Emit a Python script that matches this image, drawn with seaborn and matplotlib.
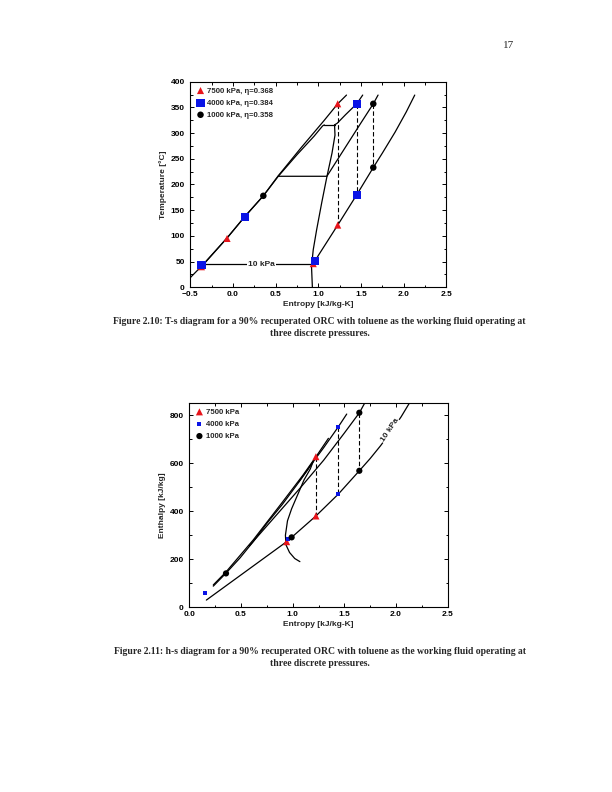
import numpy as np
import pandas as pd
import matplotlib
matplotlib.use("Agg")
import matplotlib.pyplot as plt
from matplotlib.ticker import MultipleLocator
import seaborn as sns

# ---------------- T-s diagram data ----------------
ts_satliq_s = [-0.50, -0.37, -0.07, 0.14, 0.355, 0.53, 0.75, 0.95, 1.02, 1.05, 1.07]
ts_satliq_T = [19, 41, 96, 138, 178, 216, 258, 294, 308, 314, 316]
ts_top_s = [1.07, 1.19]
ts_top_T = [316, 316]
ts_satvap_s = [1.19, 1.195, 1.16, 1.10, 1.04, 0.98, 0.94, 0.92, 0.93]
ts_satvap_T = [316, 296, 261, 215, 165, 112, 73, 40, 0]
ts_p7500_s = [-0.37, -0.07, 0.14, 0.355, 0.53, 0.80, 1.06, 1.227, 1.33]
ts_p7500_T = [40, 96, 138, 178, 217, 272, 323, 357, 374]
ts_p4000_s = [1.19, 1.22, 1.32, 1.45, 1.52]
ts_p4000_T = [316, 319, 336, 357, 374]
ts_p1000_s = [0.53, 1.10, 1.30, 1.50, 1.644, 1.70]
ts_p1000_T = [216, 216, 268, 320, 357, 374]
ts_p10_s = [-0.37, 0.925]
ts_p10_T = [45, 45]
ts_p10v_s = [0.95, 1.00, 1.227, 1.45, 1.644, 1.75, 1.90, 2.03, 2.13]
ts_p10v_T = [48, 62, 121, 180, 233, 261, 302, 341, 374]
ts_turb_s = [1.227, 1.45, 1.644]
ts_turb_Tin = [357, 357, 357]
ts_turb_Tout = [121, 180, 233]

ts_red_s = [-0.37, -0.07, 0.94, 1.227, 1.227]
ts_red_T = [40, 95, 46, 121, 357]
ts_blue_s = [-0.37, 0.144, 0.96, 1.45, 1.45]
ts_blue_T = [43, 137, 52, 180, 357]
ts_black_s = [0.355, 1.644, 1.644]
ts_black_T = [178, 357, 233]

ts_labels = ["7500 kPa, η=0.368", "4000 kPa, η=0.384", "1000 kPa, η=0.358"]

# ---------------- h-s diagram data ----------------
hs_satliq_s = [0.232, 0.355, 0.49, 0.62, 0.75, 0.90, 1.05, 1.15, 1.20]
hs_satliq_h = [88, 142, 205, 274, 349, 428, 515, 575, 608]
hs_satvap_s = [1.20, 1.17, 1.11, 1.05, 0.99, 0.95, 0.93, 0.935, 0.97, 1.02, 1.07]
hs_satvap_h = [608, 575, 530, 470, 410, 360, 300, 260, 228, 203, 190]
hs_p7500_s = [0.232, 0.355, 0.62, 0.90, 1.10, 1.225, 1.346]
hs_p7500_h = [93, 147, 281, 437, 550, 626, 703]
hs_p4000_s = [1.06, 1.20, 1.30, 1.442, 1.523]
hs_p4000_h = [522, 606, 664, 751, 804]
hs_p1000_s = [0.58, 1.07, 1.30, 1.50, 1.645, 1.70]
hs_p1000_h = [255, 495, 612, 725, 809, 852]
hs_p10_s = [0.165, 0.942, 0.99, 1.225, 1.442, 1.645, 1.75, 1.85, 1.95, 2.05, 2.13]
hs_p10_h = [30, 273, 291, 380, 471, 568, 619, 672, 730, 793, 850]
hs_turb_s = [1.225, 1.442, 1.645]
hs_turb_hin = [626.5, 751, 809.5]
hs_turb_hout = [380, 471, 568]

hs_red_s = [0.942, 1.225, 1.225]
hs_red_h = [273, 380, 626.5]
hs_blue_s = [0.152, 0.958, 1.442, 1.442]
hs_blue_h = [58, 283, 471, 751]
hs_black_s = [0.355, 0.99, 1.645, 1.645]
hs_black_h = [141, 291, 568, 809.5]

hs_labels = ["7500 kPa", "4000 kPa", "1000 kPa"]

# ---------------- styling ----------------
sns.set_theme(style="ticks")
plt.rcParams["font.family"] = ["Liberation Sans", "DejaVu Sans"]
plt.rcParams["axes.linewidth"] = 0.8

W, H = 612, 792
fig = plt.figure(figsize=(W / 100, H / 100), dpi=100)
fig.patch.set_facecolor("white")

def px_axes(x0, y0, x1, y1):
    return fig.add_axes([x0 / W, 1 - y1 / H, (x1 - x0) / W, (y1 - y0) / H])

ax1 = px_axes(190.4, 81.7, 446.3, 287.3)
ax2 = px_axes(189.3, 403.0, 447.7, 607.3)

LW = 0.9
FS = 6

def line(ax, xs, ys):
    df = pd.DataFrame({"x": xs, "y": ys})
    sns.lineplot(data=df, x="x", y="y", ax=ax, sort=False, estimator=None,
                 color="black", linewidth=LW, legend=False)

def dashed(ax, xs, y0s, y1s):
    for x, a, b in zip(xs, y0s, y1s):
        df = pd.DataFrame({"x": [x, x], "y": [a, b]})
        sns.lineplot(data=df, x="x", y="y", ax=ax, sort=False, estimator=None,
                     color="black", linewidth=0.8, legend=False)
        ax.lines[-1].set_dashes([4, 2.2])

def pts(ax, xs, ys, marker, color, size, label):
    sns.scatterplot(x=xs, y=ys, ax=ax, marker=marker, color=color, s=size,
                    edgecolor="none", linewidth=0, label=label, zorder=5)

# ---- T-s ----
line(ax1, ts_satliq_s, ts_satliq_T)
line(ax1, ts_top_s, ts_top_T)
line(ax1, ts_satvap_s, ts_satvap_T)
line(ax1, ts_p7500_s, ts_p7500_T)
line(ax1, ts_p4000_s, ts_p4000_T)
line(ax1, ts_p1000_s, ts_p1000_T)
line(ax1, ts_p10_s, ts_p10_T)
line(ax1, ts_p10v_s, ts_p10v_T)
dashed(ax1, ts_turb_s, ts_turb_Tin, ts_turb_Tout)
pts(ax1, ts_red_s, ts_red_T, "^", "#e8141b", 26, ts_labels[0])
pts(ax1, ts_blue_s, ts_blue_T, "s", "#0a14e6", 34, ts_labels[1])
pts(ax1, ts_black_s, ts_black_T, "o", "black", 22, ts_labels[2])
ax1.text(0.335, 45, "10 kPa", ha="center", va="center", fontsize=FS,
         fontweight="bold", zorder=6,
         bbox=dict(facecolor="white", edgecolor="none", pad=0.6))

ax1.set_xlim(-0.5, 2.5)
ax1.set_ylim(0, 400)
ax1.xaxis.set_major_locator(MultipleLocator(0.5))
ax1.xaxis.set_minor_locator(MultipleLocator(0.25))
ax1.yaxis.set_major_locator(MultipleLocator(50))
ax1.yaxis.set_minor_locator(MultipleLocator(25))
ax1.set_xlabel("Entropy [kJ/kg-K]", fontsize=FS, fontweight="bold", labelpad=1.5)
ax1.set_ylabel("Temperature [°C]", fontsize=FS, fontweight="bold", labelpad=2.5)

# ---- h-s ----
line(ax2, hs_satliq_s, hs_satliq_h)
line(ax2, hs_satvap_s, hs_satvap_h)
line(ax2, hs_p7500_s, hs_p7500_h)
line(ax2, hs_p4000_s, hs_p4000_h)
line(ax2, hs_p1000_s, hs_p1000_h)
line(ax2, hs_p10_s, hs_p10_h)
dashed(ax2, hs_turb_s, hs_turb_hin, hs_turb_hout)
pts(ax2, hs_red_s, hs_red_h, "^", "#e8141b", 26, hs_labels[0])
pts(ax2, hs_blue_s, hs_blue_h, "s", "#0a14e6", 9, hs_labels[1])
pts(ax2, hs_black_s, hs_black_h, "o", "black", 20, hs_labels[2])
ax2.text(1.94, 736, "10 kPa", ha="center", va="center", fontsize=FS,
         fontweight="bold", rotation=56, zorder=6,
         bbox=dict(facecolor="white", edgecolor="none", pad=0.4))

ax2.set_xlim(0, 2.5)
ax2.set_ylim(0, 850)
ax2.xaxis.set_major_locator(MultipleLocator(0.5))
ax2.xaxis.set_minor_locator(MultipleLocator(0.25))
ax2.yaxis.set_major_locator(MultipleLocator(200))
ax2.yaxis.set_minor_locator(MultipleLocator(100))
ax2.set_xlabel("Entropy [kJ/kg-K]", fontsize=FS, fontweight="bold", labelpad=1.5)
ax2.set_ylabel("Enthalpy [kJ/kg]", fontsize=FS, fontweight="bold", labelpad=2.5)

for ax in (ax1, ax2):
    ax.tick_params(which="both", direction="in", top=True, right=True,
                   width=0.7, colors="black")
    ax.tick_params(which="major", length=3, labelsize=FS)
    ax.tick_params(axis="x", which="major", pad=3)
    ax.tick_params(axis="y", which="major", pad=4)
    ax.tick_params(which="minor", length=1.8)
    for lab in ax.get_xticklabels() + ax.get_yticklabels():
        lab.set_fontweight("bold")
    for sp in ax.spines.values():
        sp.set_visible(True)
        sp.set_color("black")
    ax.set_facecolor("white")
    ax.legend(loc="upper left", frameon=False, handletextpad=0.2,
              labelspacing=0.6, borderaxespad=0.3, handlelength=1.2,
              prop=dict(weight="bold", size=5.6))

# ---- page text ----
serif = ["Liberation Serif", "DejaVu Serif"]
fig.text(509 / W, 1 - 45 / H, "17", ha="center", va="center", fontsize=8,
         family=serif)
cap1 = "Figure 2.10: T-s diagram for a 90% recuperated ORC with toluene as the working fluid operating at"
cap2 = "Figure 2.11: h-s diagram for a 90% recuperated ORC with toluene as the working fluid operating at"
for cap, y in ((cap1, 322), (cap2, 651)):
    fig.text(319.5 / W, 1 - y / H, cap, ha="center", va="center", fontsize=6.9,
             fontweight="bold", family=serif)
    fig.text(319.5 / W, 1 - (y + 12) / H, "three discrete pressures.",
             ha="center", va="center", fontsize=6.9, fontweight="bold",
             family=serif)

fig.savefig("out.png", dpi=100, facecolor="white")
